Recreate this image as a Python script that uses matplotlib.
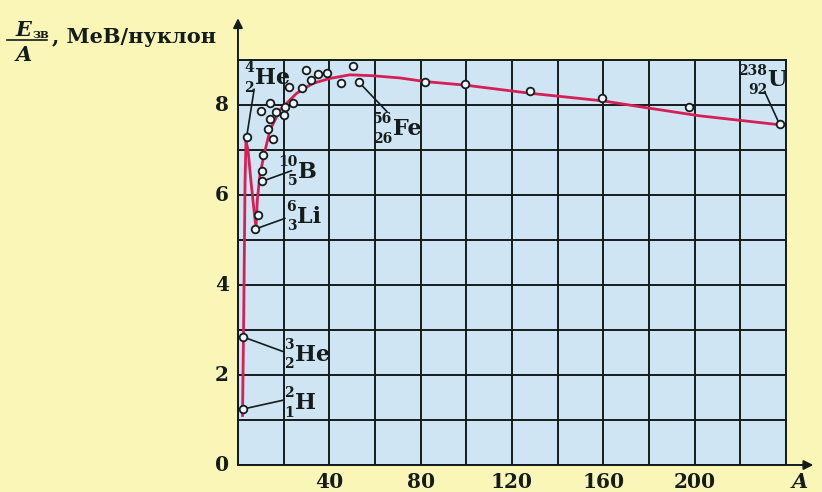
import matplotlib.pyplot as plt
from matplotlib.lines import Line2D

# Binding energy per nucleon
mass_pts = [2.0, 2.0, 3.8, 7.4, 8.6, 10.4, 10.4, 11.1, 10.0, 13.3, 14.0, 14.0, 15.4, 16.6,
            20.1, 20.6, 24.2, 22.5, 27.9, 29.8, 32.0, 35.0, 39.2, 45.0, 50.2, 53.1,
            81.8, 99.6, 127.8, 159.6, 197.4, 237.2]
energy_pts = [1.24, 2.85, 7.29, 5.24, 5.56, 6.30, 6.54, 6.88, 7.87, 7.46, 7.69, 8.04, 7.24, 7.85,
              7.78, 7.95, 8.04, 8.40, 8.37, 8.77, 8.56, 8.69, 8.70, 8.48, 8.87, 8.50,
              8.50, 8.46, 8.32, 8.15, 7.96, 7.57]

# red trend curve
curve_mass = [2.0, 2.6, 3.1, 3.5, 4.4, 5.7, 7.0, 7.9, 8.5, 9.6, 11.4, 14.0, 18.4, 25.7,
              32.8, 40.3, 49.0, 59.0, 71.0, 82.0, 99.6, 128.0, 160.0, 180.0, 202.0, 237.2]
curve_energy = [1.1, 3.7, 6.3, 7.2, 7.0, 6.3, 5.67, 5.27, 5.9, 6.44, 6.89, 7.44, 7.89, 8.26,
                8.48, 8.59, 8.67, 8.65, 8.60, 8.52, 8.44, 8.26, 8.09, 7.93, 7.76, 7.56]

x_ticks = list(range(0, 241, 20))
x_labels = ['40', '80', '120', '160', '200']
y_ticks = list(range(0, 10))
y_labels = ['0', '2', '4', '6', '8']

bg = '#faf6b8'
ink = '#141c1c'
serif = 'DejaVu Serif'

fig = plt.figure(figsize=(8.22, 4.92), dpi=100, facecolor=bg)
ax = fig.add_axes([0.2895, 0.0549, 0.6667, 0.8232])
ax.set_facecolor('#cfe5f3')

ax.set_xlim(0, 240)
ax.set_ylim(0, 9)
ax.set_xticks(x_ticks)
ax.set_yticks(y_ticks)
ax.set_xticklabels([''] * len(x_ticks))
ax.set_yticklabels([''] * len(y_ticks))
ax.tick_params(length=0)
ax.grid(True, color=ink, linewidth=1.4)
for s in ax.spines.values():
    s.set_color(ink)
    s.set_linewidth(1.4)

# tick labels drawn as text (only every second line labelled)
for lab in x_labels:
    ax.text(float(lab), -0.38, lab, ha='center', va='center', fontsize=14.5,
            fontweight='bold', family=serif, color=ink)
for lab in y_labels:
    ax.text(-4, float(lab), lab, ha='right', va='center', fontsize=14.5,
            fontweight='bold', family=serif, color=ink)

# axis arrows
ax.annotate('', xy=(0, 1.11), xytext=(0, 0), xycoords='axes fraction',
            arrowprops=dict(arrowstyle='-|>', color=ink, lw=1.4, mutation_scale=14))
ax.annotate('', xy=(1.055, 0), xytext=(0, 0), xycoords='axes fraction',
            arrowprops=dict(arrowstyle='-|>', color=ink, lw=1.4, mutation_scale=14))

ax.plot(curve_mass, curve_energy, color='#d61f57', lw=2.0, zorder=3, clip_on=False)
ax.plot(mass_pts, energy_pts, 'o', ms=5.5, mfc='#edf6fb', mec=ink, mew=1.3, zorder=4,
        clip_on=False)


def nuclide(sym, mass, z, x, y):
    ax.text(x, y, sym, ha='left', va='center', fontsize=16, fontweight='bold',
            family=serif, color=ink, zorder=5)
    ax.annotate(mass, xy=(x, y), xytext=(-0.5, 7), textcoords='offset points',
                ha='right', va='center', fontsize=10, fontweight='bold',
                family=serif, color=ink, zorder=5)
    ax.annotate(z, xy=(x, y), xytext=(-0.5, -7), textcoords='offset points',
                ha='right', va='center', fontsize=10, fontweight='bold',
                family=serif, color=ink, zorder=5)


def leader(p, q):
    ax.annotate('', xy=p, xytext=q,
                arrowprops=dict(arrowstyle='-', color=ink, lw=1.2, shrinkA=0, shrinkB=3))


nuclide('He', '4', '2', 7.4, 8.6)
leader((3.8, 7.29), (7.1, 8.35))
nuclide('B', '10', '5', 26.3, 6.52)
leader((10.4, 6.30), (23.5, 6.54))
nuclide('Li', '6', '3', 25.8, 5.52)
leader((7.4, 5.24), (20.6, 5.48))
nuclide('He', '3', '2', 24.9, 2.45)
leader((2.0, 2.85), (19.8, 2.52))
nuclide('H', '2', '1', 24.9, 1.38)
leader((2.0, 1.24), (19.8, 1.44))
nuclide('Fe', '56', '26', 67.8, 7.47)
leader((53.1, 8.50), (65.3, 7.85))
nuclide('U', '238', '92', 232.0, 8.55)
leader((237.2, 7.57), (230.6, 8.30))

# axis titles
fig.text(800 / 822, 1 - 482 / 492, 'A', ha='center', va='center', fontsize=15,
         fontweight='bold', style='italic', family=serif, color=ink)
fig.text(23 / 822, 1 - 30 / 492, 'E', ha='center', va='center', fontsize=15,
         fontweight='bold', style='italic', family=serif, color=ink)
fig.text(33 / 822, 1 - 34 / 492, 'зв', ha='left', va='center', fontsize=9,
         fontweight='bold', family=serif, color=ink)
fig.add_artist(Line2D([7 / 822, 47 / 822], [1 - 40 / 492, 1 - 40 / 492],
                      color=ink, lw=1.2, transform=fig.transFigure))
fig.text(24 / 822, 1 - 55 / 492, 'A', ha='center', va='center', fontsize=15,
         fontweight='bold', style='italic', family=serif, color=ink)
fig.text(52 / 822, 1 - 37 / 492, ', МеВ/нуклон', ha='left', va='center', fontsize=15,
         fontweight='bold', family=serif, color=ink)

plt.savefig('out.png', dpi=100, facecolor=bg)
